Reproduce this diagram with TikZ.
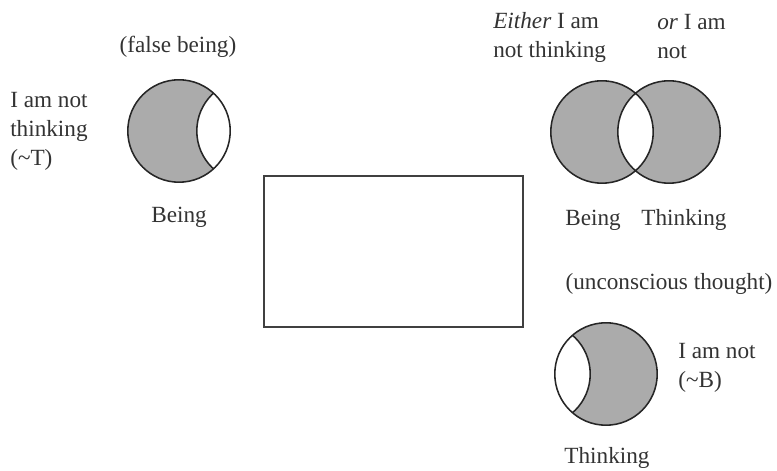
\documentclass[tikz,border=0pt]{standalone}
\usepackage{fontspec}
\setmainfont{Liberation Serif}

\begin{document}
\begin{tikzpicture}[
  x=0.025cm, y=-0.025cm,
  lbl/.style={text=black!80, font=\fontsize{16.5}{20.6}\selectfont, inner sep=0pt},
  txt/.style={lbl, align=left, anchor=west},
  greyfill/.style={fill=black!33},
  rim/.style={draw=black!85, line width=1.1pt},
  frame/.style={draw=black!75, line width=1.3pt}
]
\useasboundingbox (0,0) rectangle (777,471);
\coordinate (beingL) at (179,131);
\coordinate (ghostL) at (248,131);
\coordinate (beingR) at (602,132);
\coordinate (thinkR) at (669,132);
\coordinate (thinkB) at (606,374);
\coordinate (ghostB) at (539,374);
\fill[greyfill] (beingL) circle[radius=1.28cm];
\begin{scope}
  \clip (beingL) circle[radius=1.28cm];
  \fill[white] (ghostL) circle[radius=1.28cm];
  \draw[rim] (ghostL) circle[radius=1.28cm];
\end{scope}
\draw[rim] (beingL) circle[radius=1.28cm];
\fill[greyfill] (beingR) circle[radius=1.28cm] (thinkR) circle[radius=1.28cm];
\begin{scope}
  \clip (beingR) circle[radius=1.28cm];
  \fill[white] (thinkR) circle[radius=1.28cm];
\end{scope}
\draw[rim] (beingR) circle[radius=1.28cm] (thinkR) circle[radius=1.28cm];
\fill[greyfill] (thinkB) circle[radius=1.28cm];
\begin{scope}
  \clip (thinkB) circle[radius=1.28cm];
  \fill[white] (ghostB) circle[radius=1.28cm];
  \draw[rim] (ghostB) circle[radius=1.28cm];
\end{scope}
\draw[rim] (thinkB) circle[radius=1.28cm];
\node[frame, minimum width=6.475cm, minimum height=3.775cm, anchor=north west] (box) at (263,175) {};
\node[lbl] (falsebeing) at (178,47) {(false being)};
\node[txt] (notT) at (10,131) {I am not\\thinking\\(\textasciitilde T)};
\node[lbl] (beingLlbl) at (179,217) {Being};
\node[txt] (either) at (493,37) {\textit{Either} I am\\not thinking};
\node[txt] (orr) at (657,37) {\textit{or} I am\\not};
\node[lbl] (beingRlbl) at (593,220) {Being};
\node[lbl] (thinkRlbl) at (684,220) {Thinking};
\node[lbl] (unconscious) at (669,284) {(unconscious thought)};
\node[txt] (notB) at (678,368) {I am not\\(\textasciitilde B)};
\node[lbl] (thinkBlbl) at (607,458) {Thinking};
\end{tikzpicture}
\end{document}
